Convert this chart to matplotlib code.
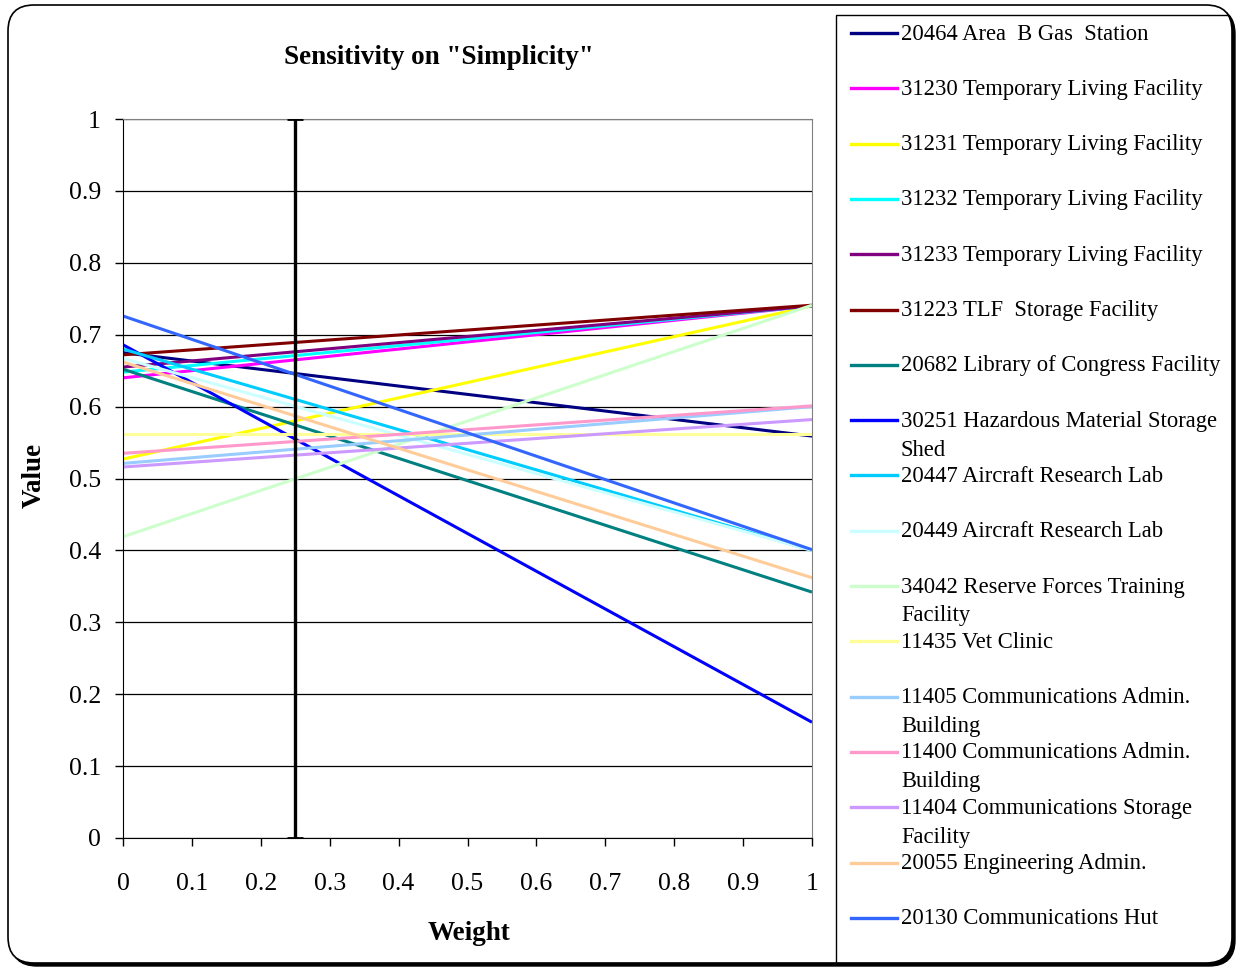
import matplotlib.pyplot as plt
from matplotlib.patches import FancyBboxPatch
from matplotlib.lines import Line2D

W, H = 1238, 968

weights = [0, 1]
names = [
    "20464 Area  B Gas  Station",
    "31230 Temporary Living Facility",
    "31231 Temporary Living Facility",
    "31232 Temporary Living Facility",
    "31233 Temporary Living Facility",
    "31223 TLF  Storage Facility",
    "20682 Library of Congress Facility",
    "30251 Hazardous Material Storage\nShed",
    "20447 Aircraft Research Lab",
    "20449 Aircraft Research Lab",
    "34042 Reserve Forces Training\nFacility",
    "11435 Vet Clinic",
    "11405 Communications Admin.\nBuilding",
    "11400 Communications Admin.\nBuilding",
    "11404 Communications Storage\nFacility",
    "20055 Engineering Admin.",
    "20130 Communications Hut",
]
start_vals = [0.675, 0.64, 0.527, 0.648, 0.655, 0.672, 0.652, 0.686, 0.68, 0.667,
              0.419, 0.562, 0.521, 0.535, 0.516, 0.662, 0.726]
end_vals = [0.559, 0.74, 0.74, 0.74, 0.74, 0.741, 0.342, 0.161, 0.40, 0.40,
            0.741, 0.562, 0.60, 0.601, 0.582, 0.362, 0.401]
colors = ["#000080", "#FF00FF", "#FFFF00", "#00FFFF", "#800080", "#800000",
          "#008080", "#0000FF", "#00CCFF", "#CCFFFF", "#CCFFCC", "#FFFF99",
          "#99CCFF", "#FF99CC", "#CC99FF", "#FFCC99", "#3366FF"]
current_weight = 0.25

plt.rcParams['font.family'] = ['Liberation Serif', 'DejaVu Serif']

fig = plt.figure(figsize=(W / 100, H / 100), dpi=100)
fig.patch.set_facecolor('white')

# background layer in pixel coords: frame + legend
bg = fig.add_axes([0, 0, 1, 1])
bg.set_xlim(0, W)
bg.set_ylim(H, 0)
bg.axis('off')

shadow = FancyBboxPatch((11, 8), 1224, 958, boxstyle="round,pad=0,rounding_size=26",
                        fc='black', ec='black', lw=1)
bg.add_patch(shadow)
frame = FancyBboxPatch((8, 5), 1224, 958, boxstyle="round,pad=0,rounding_size=26",
                       fc='white', ec='black', lw=1.2)
bg.add_patch(frame)
clip = FancyBboxPatch((8, 5), 1224, 958, boxstyle="round,pad=0,rounding_size=26",
                      fc='none', ec='none')
bg.add_patch(clip)
lg = plt.Rectangle((836, 15), 420, 1000, fc='none', ec='black', lw=1.0)
bg.add_patch(lg)
lg.set_clip_path(clip)

for i, (name, c) in enumerate(zip(names, colors)):
    y = 33 + i * 55.3
    bg.add_line(Line2D([851, 897], [y, y], color=c, lw=2.4))
    for j, part in enumerate(name.split("\n")):
        bg.text(901, y + 1 + j * 29, part, fontsize=16.3, va='center', ha='left')

# main chart
ax = fig.add_axes([123 / W, 1 - 838 / H, (812 - 123) / W, (838 - 119) / H])
ax.set_facecolor('none')
for start, end, c in zip(start_vals, end_vals, colors):
    ax.plot(weights, [start, end], color=c, lw=2.2, solid_capstyle='butt')

ax.errorbar([current_weight], [0.5], yerr=[0.5], fmt='none', ecolor='black',
            elinewidth=2.4, capsize=6, capthick=2.0, zorder=5)

ax.set_xlim(0, 1)
ax.set_ylim(0, 1)
ax.set_xticks([i / 10 for i in range(11)])
ax.set_yticks([i / 10 for i in range(11)])
ax.set_xticklabels(['0', '0.1', '0.2', '0.3', '0.4', '0.5', '0.6', '0.7', '0.8', '0.9', '1'])
ax.set_yticklabels(['0', '0.1', '0.2', '0.3', '0.4', '0.5', '0.6', '0.7', '0.8', '0.9', '1'])
ax.tick_params(axis='x', length=6, width=1, pad=19, labelsize=18.5)
ax.tick_params(axis='y', length=6, width=1, pad=10, labelsize=18.5)
ax.yaxis.grid(True, color='black', lw=0.9)
ax.set_axisbelow(True)
ax.spines['top'].set_color('#808080')
ax.spines['right'].set_color('#808080')

fig.text(439 / W, 1 - 57 / H, 'Sensitivity on "Simplicity"', fontsize=19.5,
         fontweight='bold', ha='center', va='center')
fig.text(469 / W, 1 - 934 / H, 'Weight', fontsize=19.5, fontweight='bold',
         ha='center', va='center')
fig.text(34 / W, 1 - 475 / H, 'Value', fontsize=19.5, fontweight='bold',
         ha='center', va='center', rotation=90)

fig.savefig('out.png', dpi=100)
